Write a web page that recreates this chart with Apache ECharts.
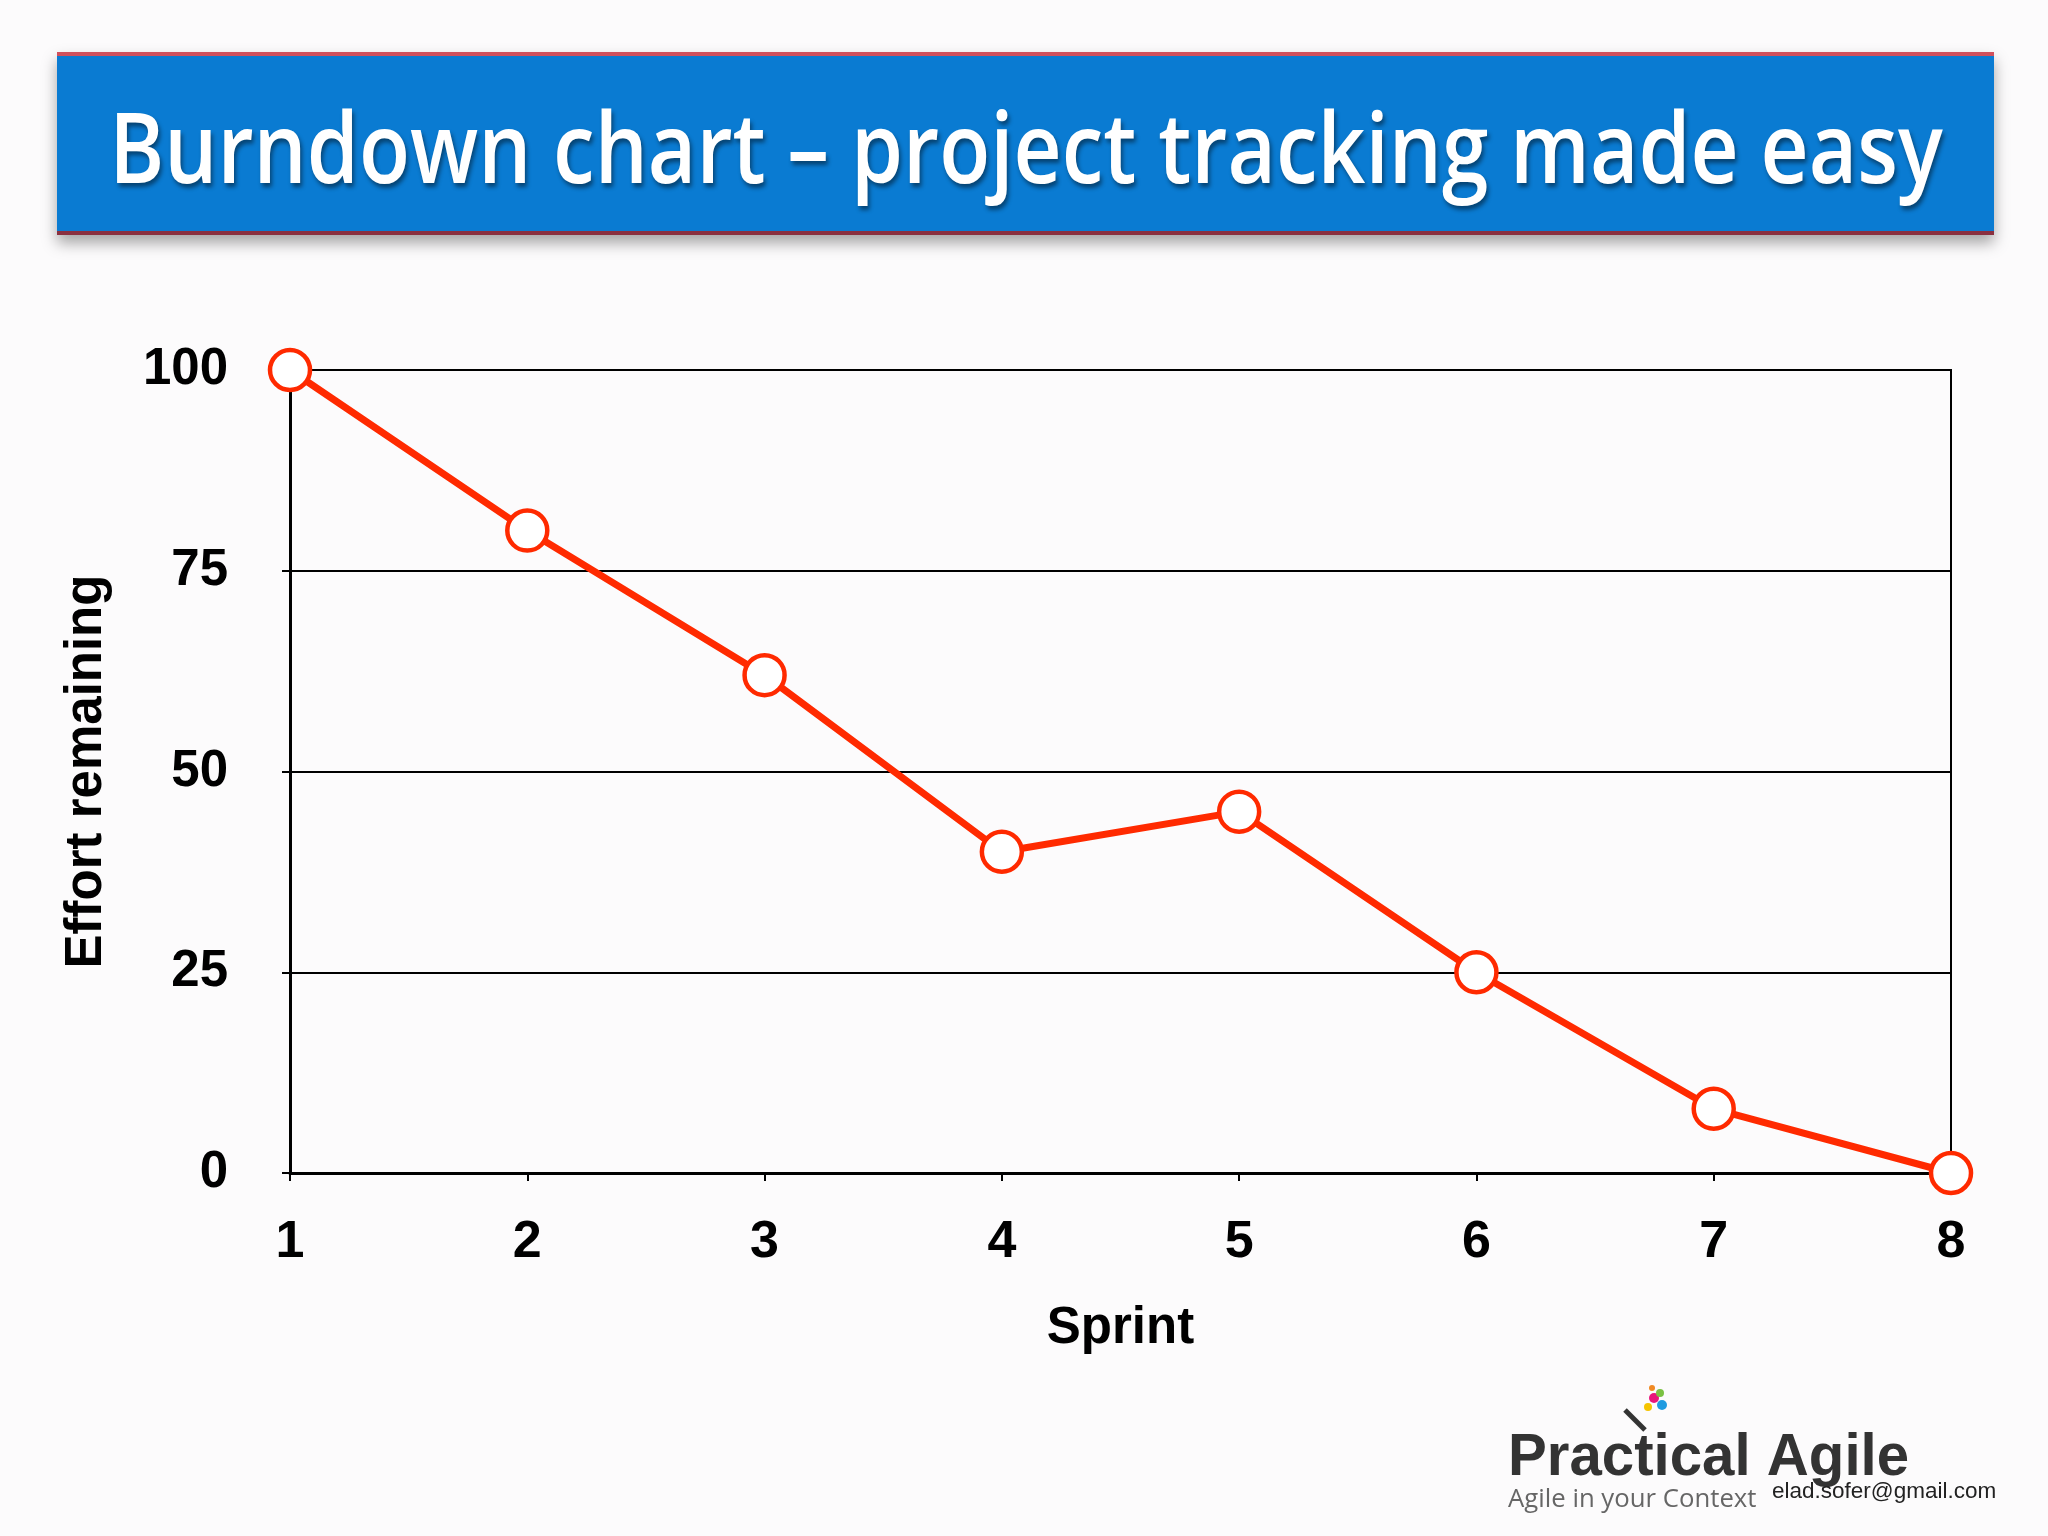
<!DOCTYPE html>
<html>
<head>
<meta charset="utf-8">
<script src="https://cdn.jsdelivr.net/npm/echarts@6/dist/echarts.min.js"></script>
<style>
html,body{margin:0;padding:0;background:#fcfbfc;}
#chart{width:2048px;height:1536px;}
</style>
</head>
<body>
<div id="chart"></div>
<script>
const sprints = [1, 2, 3, 4, 5, 6, 7, 8];
const effortRemaining = [100, 80, 62, 40, 45, 25, 8, 0];
const yTicks = [0, 25, 50, 75, 100];
const titleText = 'Burndown chart \u2013 project tracking made easy';
const xAxisTitle = 'Sprint';
const yAxisTitle = 'Effort remaining';

const chart = echarts.init(document.getElementById('chart'), null, {renderer: 'canvas'});
const points = sprints.map((s, i) => [s, effortRemaining[i]]);

chart.setOption({
  backgroundColor: '#fcfbfc',
  animation: false,
  grid: {left: 290, right: 97, top: 370, bottom: 363, show: true, borderColor: '#000', borderWidth: 2, backgroundColor: 'transparent'},
  xAxis: {
    type: 'value', min: 1, max: 8, interval: 1,
    name: xAxisTitle, nameLocation: 'middle', nameGap: 130,
    nameTextStyle: {fontFamily: 'Liberation Sans', fontWeight: 'bold', fontSize: 51, color: '#000'},
    axisLine: {show: true, lineStyle: {color: '#000', width: 3}},
    axisTick: {show: true, inside: false, length: 8, lineStyle: {color: '#000', width: 2}},
    axisLabel: {margin: 44, fontFamily: 'Liberation Sans', fontWeight: 'bold', fontSize: 52, color: '#000',
      formatter: v => String(sprints[sprints.indexOf(v)] ?? v)},
    splitLine: {show: false}
  },
  yAxis: {
    type: 'value', min: 0, max: 100, interval: 25,
    name: yAxisTitle, nameLocation: 'middle', nameGap: 178, nameRotate: 90,
    nameTextStyle: {fontFamily: 'Liberation Sans', fontWeight: 'bold', fontSize: 51, color: '#000'},
    axisLine: {show: true, lineStyle: {color: '#000', width: 3}},
    axisTick: {show: true, inside: false, length: 8, lineStyle: {color: '#000', width: 2}},
    axisLabel: {margin: 62, fontFamily: 'Liberation Sans', fontWeight: 'bold', fontSize: 51, color: '#000',
      formatter: v => yTicks.includes(v) ? String(v) : ''},
    splitLine: {show: true, lineStyle: {color: '#000', width: 2}}
  },
  series: [{
    type: 'line',
    data: points,
    symbol: 'circle',
    symbolSize: 40,
    showSymbol: true,
    lineStyle: {color: '#ff2a00', width: 7},
    itemStyle: {color: '#ffffff', borderColor: '#ff2a00', borderWidth: 4.5},
    z: 5
  }],
  graphic: [
    {type: 'rect', shape: {x: 57, y: 52, width: 1937, height: 183}, style: {fill: '#0a7bd2', shadowBlur: 14, shadowOffsetY: 8, shadowColor: 'rgba(0,0,0,0.35)'}, z: 1},
    {type: 'rect', shape: {x: 57, y: 52, width: 1937, height: 4}, style: {fill: '#d0505c'}, z: 2},
    {type: 'rect', shape: {x: 57, y: 231, width: 1937, height: 4}, style: {fill: '#8a3040'}, z: 2},
    {type: 'text', x: 1026, y: 155, scaleX: 0.854, z: 3,
      style: {text: titleText, font: '600 98px "Open Sans", "DejaVu Sans"', fill: '#ffffff', textAlign: 'center', textVerticalAlign: 'middle',
        textShadowColor: 'rgba(0,0,0,0.45)', textShadowBlur: 4, textShadowOffsetX: 2, textShadowOffsetY: 4}},
    // logo
    {type: 'text', x: 1508, y: 1458, scaleX: 0.97, z: 3,
      style: {text: 'Practical Agile', font: 'bold 60px "Liberation Sans"', fill: '#333333', textAlign: 'left', textVerticalAlign: 'middle'}},
    {type: 'text', x: 1508, y: 1500, scaleX: 0.99, z: 3,
      style: {text: 'Agile in your Context', font: '26px "Open Sans"', fill: '#666666', textAlign: 'left', textVerticalAlign: 'middle'}},
    {type: 'text', x: 1772, y: 1492, z: 4,
      style: {text: 'elad.sofer@gmail.com', font: '22.5px "Liberation Sans"', fill: '#222222', textAlign: 'left', textVerticalAlign: 'middle'}},
    {type: 'line', shape: {x1: 1625, y1: 1410, x2: 1645, y2: 1430}, style: {stroke: '#333', lineWidth: 5}, z: 3},
    {type: 'circle', shape: {cx: 1654, cy: 1398, r: 5}, style: {fill: '#e8157a'}, z: 3},
    {type: 'circle', shape: {cx: 1662, cy: 1405, r: 5}, style: {fill: '#1f9be0'}, z: 3},
    {type: 'circle', shape: {cx: 1648, cy: 1407, r: 4}, style: {fill: '#f5c400'}, z: 3},
    {type: 'circle', shape: {cx: 1660, cy: 1393, r: 4}, style: {fill: '#7ac142'}, z: 3},
    {type: 'circle', shape: {cx: 1652, cy: 1388, r: 3}, style: {fill: '#f08a24'}, z: 3}
  ]
});
</script>
</body>
</html>
